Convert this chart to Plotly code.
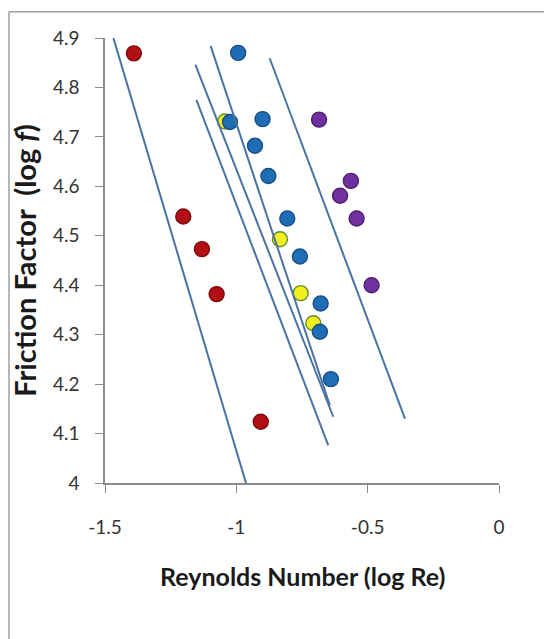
import plotly.graph_objects as go

# log Re / log f measurements for each group
red_x = [-1.390, -1.202, -1.131, -1.075, -0.907]
red_y = [4.869, 4.539, 4.473, 4.382, 4.124]

yellow_x = [-1.043, -0.834, -0.755, -0.707]
yellow_y = [4.731, 4.493, 4.384, 4.323]

blue_x = [-0.993, -1.024, -0.900, -0.929, -0.878, -0.806, -0.758, -0.679, -0.682, -0.640]
blue_y = [4.870, 4.730, 4.736, 4.682, 4.621, 4.535, 4.458, 4.363, 4.306, 4.210]

purple_x = [-0.685, -0.564, -0.605, -0.542, -0.485]
purple_y = [4.735, 4.611, 4.581, 4.535, 4.400]

# straight reference lines (start, end)
line_x = [[-1.468, -0.951], [-1.156, -0.631], [-1.152, -0.650], [-1.098, -0.644], [-0.873, -0.358]]
line_y = [[4.900, 3.978], [4.846, 4.134], [4.775, 4.076], [4.884, 4.157], [4.859, 4.130]]

x_ticks = [-1.5, -1, -0.5, 0]
x_tick_text = ["-1.5", "-1", "-0.5", "0"]
y_ticks = [4.0, 4.1, 4.2, 4.3, 4.4, 4.5, 4.6, 4.7, 4.8, 4.9]
y_tick_text = ["4", "4.1", "4.2", "4.3", "4.4", "4.5", "4.6", "4.7", "4.8", "4.9"]

fig = go.Figure()

groups = [
    (red_x, red_y, "#b20f14", "#7a0a0e"),
    (yellow_x, yellow_y, "#f0f020", "#6a8a2a"),
    (blue_x, blue_y, "#1f6db5", "#184f88"),
    (purple_x, purple_y, "#7030a0", "#4f2070"),
]
for gx, gy, fill, edge in groups:
    fig.add_trace(go.Scatter(
        x=gx, y=gy, mode="markers",
        marker=dict(size=15, color=fill, line=dict(color=edge, width=1.4)),
        cliponaxis=False, showlegend=False, hoverinfo="x+y",
    ))

for lx, ly in zip(line_x, line_y):
    fig.add_trace(go.Scatter(
        x=lx, y=ly, mode="lines",
        line=dict(color="#4a73a3", width=2),
        cliponaxis=False, showlegend=False, hoverinfo="skip",
    ))

axis_common = dict(
    showgrid=False, zeroline=False, showline=True,
    linecolor="#8c8c8c", linewidth=1.5,
    ticks="outside", ticklen=8, tickwidth=1.2, tickcolor="#8c8c8c",
    tickfont=dict(family="Lato, Open Sans, sans-serif", size=19, color="#333333"),
)

fig.update_xaxes(range=[-1.5, 0], tickvals=x_ticks, ticktext=x_tick_text,
                 ticklabelstandoff=18, **axis_common)
fig.update_yaxes(range=[4.0, 4.9], tickvals=y_ticks, ticktext=y_tick_text,
                 ticklabelstandoff=12, **axis_common)

fig.add_annotation(
    text="Reynolds Number (log Re)", xref="paper", yref="paper",
    x=0.5, y=-0.208, showarrow=False, xanchor="center", yanchor="middle",
    font=dict(family="Lato, Open Sans, sans-serif", size=25, color="#1a1a1a", weight="bold"),
)
fig.add_annotation(
    text="Friction Factor&nbsp; (log <i>f</i>)", xref="paper", yref="paper",
    x=-0.205, y=0.50, showarrow=False, textangle=-90,
    xanchor="center", yanchor="middle",
    font=dict(family="Lato, Open Sans, sans-serif", size=29, color="#1a1a1a", weight="bold"),
)

# outer chart frame (top and left edges)
fig.add_shape(type="line", xref="paper", yref="paper",
              x0=-0.2437, y0=1.0592, x1=1.2, y1=1.0592,
              line=dict(color="#a0a0a0", width=1.5))
fig.add_shape(type="line", xref="paper", yref="paper",
              x0=-0.2437, y0=1.0592, x1=-0.2437, y1=-0.45,
              line=dict(color="#a0a0a0", width=1.5))

fig.update_layout(
    width=544, height=639,
    margin=dict(l=105, r=45, t=38, b=156),
    plot_bgcolor="white", paper_bgcolor="white",
)

fig.write_html("out.html")
